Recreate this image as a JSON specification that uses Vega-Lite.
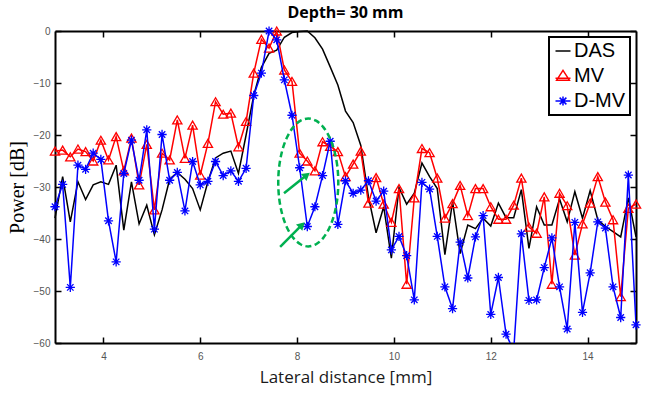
{
  "$schema": "https://vega.github.io/schema/vega-lite/v6.json",
  "width": 581,
  "height": 312,
  "autosize": "none",
  "padding": {"left": 55, "top": 31, "right": 20, "bottom": 50},
  "background": "white",
  "config": {"view": {"stroke": null}},
  "title": {"text": "Depth= 30 mm", "font": "Open Sans", "fontSize": 16, "fontWeight": "bold", "color": "black", "anchor": "middle", "baseline": "alphabetic", "offset": -10},
  "datasets": {
    "curves": [
      {"x":3,"series":"DAS","y":-36.0},{"x":3.158,"series":"DAS","y":-28.0},{"x":3.316,"series":"DAS","y":-36.7},{"x":3.474,"series":"DAS","y":-29.0},{"x":3.632,"series":"DAS","y":-32.4},{"x":3.789,"series":"DAS","y":-29.6},{"x":3.947,"series":"DAS","y":-29.0},{"x":4.105,"series":"DAS","y":-29.5},{"x":4.263,"series":"DAS","y":-25.8},{"x":4.421,"series":"DAS","y":-38.3},
      {"x":4.579,"series":"DAS","y":-29.0},{"x":4.737,"series":"DAS","y":-37.1},{"x":4.895,"series":"DAS","y":-33.5},{"x":5.053,"series":"DAS","y":-39.2},{"x":5.211,"series":"DAS","y":-34.4},{"x":5.368,"series":"DAS","y":-28.5},{"x":5.526,"series":"DAS","y":-27.2},{"x":5.684,"series":"DAS","y":-28.5},{"x":5.842,"series":"DAS","y":-30.3},{"x":6,"series":"DAS","y":-34.4},
      {"x":6.158,"series":"DAS","y":-29.0},{"x":6.316,"series":"DAS","y":-24.4},{"x":6.474,"series":"DAS","y":-23.5},{"x":6.632,"series":"DAS","y":-23.1},{"x":6.789,"series":"DAS","y":-27.4},{"x":6.947,"series":"DAS","y":-20.0},{"x":7.105,"series":"DAS","y":-12.4},{"x":7.263,"series":"DAS","y":-7.0},{"x":7.421,"series":"DAS","y":-4.3},{"x":7.579,"series":"DAS","y":-3.7},
      {"x":7.737,"series":"DAS","y":-1.2},{"x":7.895,"series":"DAS","y":-0.3},{"x":8.053,"series":"DAS","y":-0.1},{"x":8.211,"series":"DAS","y":0},{"x":8.368,"series":"DAS","y":-1.3},{"x":8.526,"series":"DAS","y":-3.5},{"x":8.684,"series":"DAS","y":-6.9},{"x":8.842,"series":"DAS","y":-10.4},{"x":9,"series":"DAS","y":-15.4},{"x":9.158,"series":"DAS","y":-17.6},
      {"x":9.316,"series":"DAS","y":-22.0},{"x":9.474,"series":"DAS","y":-31.9},{"x":9.632,"series":"DAS","y":-38.8},{"x":9.789,"series":"DAS","y":-33.8},{"x":9.947,"series":"DAS","y":-43.7},{"x":10.105,"series":"DAS","y":-30.1},{"x":10.263,"series":"DAS","y":-33.3},{"x":10.421,"series":"DAS","y":-31.2},{"x":10.579,"series":"DAS","y":-25.4},{"x":10.737,"series":"DAS","y":-28.0},
      {"x":10.895,"series":"DAS","y":-30.3},{"x":11.053,"series":"DAS","y":-43.0},{"x":11.211,"series":"DAS","y":-32.8},{"x":11.368,"series":"DAS","y":-42.8},{"x":11.526,"series":"DAS","y":-37.3},{"x":11.684,"series":"DAS","y":-38.0},{"x":11.842,"series":"DAS","y":-36.0},{"x":12,"series":"DAS","y":-37.5},{"x":12.158,"series":"DAS","y":-33.1},{"x":12.316,"series":"DAS","y":-35.9},
      {"x":12.474,"series":"DAS","y":-35.9},{"x":12.632,"series":"DAS","y":-30.5},{"x":12.789,"series":"DAS","y":-41.8},{"x":12.947,"series":"DAS","y":-33.8},{"x":13.105,"series":"DAS","y":-37.3},{"x":13.263,"series":"DAS","y":-37.3},{"x":13.421,"series":"DAS","y":-32.3},{"x":13.579,"series":"DAS","y":-36.7},{"x":13.737,"series":"DAS","y":-30.9},{"x":13.895,"series":"DAS","y":-36.0},
      {"x":14.053,"series":"DAS","y":-30.7},{"x":14.211,"series":"DAS","y":-36.3},{"x":14.368,"series":"DAS","y":-37.6},{"x":14.526,"series":"DAS","y":-38.6},{"x":14.684,"series":"DAS","y":-39.6},{"x":14.842,"series":"DAS","y":-32.1},{"x":15,"series":"DAS","y":-39.6},

      {"x":3,"series":"MV","y":-23.1},{"x":3.158,"series":"MV","y":-22.9},{"x":3.316,"series":"MV","y":-24.2},{"x":3.474,"series":"MV","y":-22.7},{"x":3.632,"series":"MV","y":-23.2},{"x":3.789,"series":"MV","y":-25.0},{"x":3.947,"series":"MV","y":-21.0},{"x":4.105,"series":"MV","y":-24.8},{"x":4.263,"series":"MV","y":-20.3},{"x":4.421,"series":"MV","y":-26.9},
      {"x":4.579,"series":"MV","y":-20.6},{"x":4.737,"series":"MV","y":-29.6},{"x":4.895,"series":"MV","y":-21.8},{"x":5.053,"series":"MV","y":-34.4},{"x":5.211,"series":"MV","y":-23.5},{"x":5.368,"series":"MV","y":-24.8},{"x":5.526,"series":"MV","y":-17.1},{"x":5.684,"series":"MV","y":-24.5},{"x":5.842,"series":"MV","y":-18.1},{"x":6,"series":"MV","y":-27.7},
      {"x":6.158,"series":"MV","y":-21.6},{"x":6.316,"series":"MV","y":-13.6},{"x":6.474,"series":"MV","y":-16.0},{"x":6.632,"series":"MV","y":-15.8},{"x":6.789,"series":"MV","y":-22.3},{"x":6.947,"series":"MV","y":-17.4},{"x":7.105,"series":"MV","y":-8.1},{"x":7.263,"series":"MV","y":-1.6},{"x":7.421,"series":"MV","y":-3.3},{"x":7.579,"series":"MV","y":0},
      {"x":7.737,"series":"MV","y":-7.5},{"x":7.895,"series":"MV","y":-9.7},{"x":8.053,"series":"MV","y":-23.5},{"x":8.211,"series":"MV","y":-25.0},{"x":8.368,"series":"MV","y":-26.9},{"x":8.526,"series":"MV","y":-21.3},{"x":8.684,"series":"MV","y":-22.2},{"x":8.842,"series":"MV","y":-23.2},{"x":9,"series":"MV","y":-28.0},{"x":9.158,"series":"MV","y":-25.6},
      {"x":9.316,"series":"MV","y":-23.1},{"x":9.474,"series":"MV","y":-33.1},{"x":9.632,"series":"MV","y":-28.2},{"x":9.789,"series":"MV","y":-33.3},{"x":9.947,"series":"MV","y":-36.8},{"x":10.105,"series":"MV","y":-30.3},{"x":10.263,"series":"MV","y":-48.7},{"x":10.421,"series":"MV","y":-32.1},{"x":10.579,"series":"MV","y":-22.6},{"x":10.737,"series":"MV","y":-23.4},
      {"x":10.895,"series":"MV","y":-28.3},{"x":11.053,"series":"MV","y":-36.0},{"x":11.211,"series":"MV","y":-33.2},{"x":11.368,"series":"MV","y":-29.7},{"x":11.526,"series":"MV","y":-35.5},{"x":11.684,"series":"MV","y":-30.3},{"x":11.842,"series":"MV","y":-30.3},{"x":12,"series":"MV","y":-33.8},{"x":12.158,"series":"MV","y":-36.2},{"x":12.316,"series":"MV","y":-36.2},
      {"x":12.474,"series":"MV","y":-33.5},{"x":12.632,"series":"MV","y":-28.3},{"x":12.789,"series":"MV","y":-37.7},{"x":12.947,"series":"MV","y":-38.9},{"x":13.105,"series":"MV","y":-31.9},{"x":13.263,"series":"MV","y":-48.7},{"x":13.421,"series":"MV","y":-31.2},{"x":13.579,"series":"MV","y":-33.6},{"x":13.737,"series":"MV","y":-43.1},{"x":13.895,"series":"MV","y":-37.1},
      {"x":14.053,"series":"MV","y":-33.1},{"x":14.211,"series":"MV","y":-28.0},{"x":14.368,"series":"MV","y":-32.9},{"x":14.526,"series":"MV","y":-36.3},{"x":14.684,"series":"MV","y":-51.1},{"x":14.842,"series":"MV","y":-34.1},{"x":15,"series":"MV","y":-33.3},

      {"x":3,"series":"D-MV","y":-33.8},{"x":3.158,"series":"D-MV","y":-29.5},{"x":3.316,"series":"D-MV","y":-49.3},{"x":3.474,"series":"D-MV","y":-25.8},{"x":3.632,"series":"D-MV","y":-26.6},{"x":3.789,"series":"D-MV","y":-23.5},{"x":3.947,"series":"D-MV","y":-24.7},{"x":4.105,"series":"D-MV","y":-36.5},{"x":4.263,"series":"D-MV","y":-44.4},{"x":4.421,"series":"D-MV","y":-27.4},
      {"x":4.579,"series":"D-MV","y":-21.0},{"x":4.737,"series":"D-MV","y":-28.7},{"x":4.895,"series":"D-MV","y":-19.0},{"x":5.053,"series":"D-MV","y":-38.1},{"x":5.211,"series":"D-MV","y":-19.9},{"x":5.368,"series":"D-MV","y":-28.7},{"x":5.526,"series":"D-MV","y":-27.2},{"x":5.684,"series":"D-MV","y":-34.6},{"x":5.842,"series":"D-MV","y":-25.1},{"x":6,"series":"D-MV","y":-29.6},
      {"x":6.158,"series":"D-MV","y":-28.9},{"x":6.316,"series":"D-MV","y":-25.1},{"x":6.474,"series":"D-MV","y":-27.8},{"x":6.632,"series":"D-MV","y":-26.9},{"x":6.789,"series":"D-MV","y":-28.9},{"x":6.947,"series":"D-MV","y":-26.4},{"x":7.105,"series":"D-MV","y":-12.4},{"x":7.263,"series":"D-MV","y":-8.1},{"x":7.421,"series":"D-MV","y":0},{"x":7.579,"series":"D-MV","y":-1.7},
      {"x":7.737,"series":"D-MV","y":-9.4},{"x":7.895,"series":"D-MV","y":-16.2},{"x":8.053,"series":"D-MV","y":-26.3},{"x":8.211,"series":"D-MV","y":-37.6},{"x":8.368,"series":"D-MV","y":-33.8},{"x":8.526,"series":"D-MV","y":-27.8},{"x":8.684,"series":"D-MV","y":-21.2},{"x":8.842,"series":"D-MV","y":-37.2},{"x":9,"series":"D-MV","y":-28.8},{"x":9.158,"series":"D-MV","y":-31.2},
      {"x":9.316,"series":"D-MV","y":-30.6},{"x":9.474,"series":"D-MV","y":-28.8},{"x":9.632,"series":"D-MV","y":-32.7},{"x":9.789,"series":"D-MV","y":-30.8},{"x":9.947,"series":"D-MV","y":-42.1},{"x":10.105,"series":"D-MV","y":-39.5},{"x":10.263,"series":"D-MV","y":-43.2},{"x":10.421,"series":"D-MV","y":-51.7},{"x":10.579,"series":"D-MV","y":-29.1},{"x":10.737,"series":"D-MV","y":-30.4},
      {"x":10.895,"series":"D-MV","y":-39.5},{"x":11.053,"series":"D-MV","y":-49.2},{"x":11.211,"series":"D-MV","y":-53.4},{"x":11.368,"series":"D-MV","y":-40.6},{"x":11.526,"series":"D-MV","y":-47.5},{"x":11.684,"series":"D-MV","y":-39.6},{"x":11.842,"series":"D-MV","y":-35.5},{"x":12,"series":"D-MV","y":-54.5},{"x":12.158,"series":"D-MV","y":-47.4},{"x":12.316,"series":"D-MV","y":-58.3},
      {"x":12.474,"series":"D-MV","y":-61.5},{"x":12.632,"series":"D-MV","y":-39.0},{"x":12.789,"series":"D-MV","y":-51.8},{"x":12.947,"series":"D-MV","y":-51.7},{"x":13.105,"series":"D-MV","y":-45.5},{"x":13.263,"series":"D-MV","y":-39.8},{"x":13.421,"series":"D-MV","y":-49.2},{"x":13.579,"series":"D-MV","y":-57.3},{"x":13.737,"series":"D-MV","y":-36.8},{"x":13.895,"series":"D-MV","y":-54.1},
      {"x":14.053,"series":"D-MV","y":-46.5},{"x":14.211,"series":"D-MV","y":-36.7},{"x":14.368,"series":"D-MV","y":-37.9},{"x":14.526,"series":"D-MV","y":-49.2},{"x":14.684,"series":"D-MV","y":-55.1},{"x":14.842,"series":"D-MV","y":-27.7},{"x":15,"series":"D-MV","y":-56.5}
    ],
    "ellipse": [
      {"i":0,"x":8.851,"y":-29.13},{"i":1,"x":8.830,"y":-25.95},{"i":2,"x":8.768,"y":-22.98},{"i":3,"x":8.669,"y":-20.43},{"i":4,"x":8.541,"y":-18.48},{"i":5,"x":8.391,"y":-17.25},
      {"i":6,"x":8.231,"y":-16.83},{"i":7,"x":8.071,"y":-17.25},{"i":8,"x":7.921,"y":-18.48},{"i":9,"x":7.793,"y":-20.43},{"i":10,"x":7.694,"y":-22.98},{"i":11,"x":7.632,"y":-25.95},
      {"i":12,"x":7.611,"y":-29.13},{"i":13,"x":7.632,"y":-32.31},{"i":14,"x":7.694,"y":-35.28},{"i":15,"x":7.793,"y":-37.83},{"i":16,"x":7.921,"y":-39.78},{"i":17,"x":8.071,"y":-41.01},
      {"i":18,"x":8.231,"y":-41.43},{"i":19,"x":8.391,"y":-41.01},{"i":20,"x":8.541,"y":-39.78},{"i":21,"x":8.669,"y":-37.83},{"i":22,"x":8.768,"y":-35.28},{"i":23,"x":8.830,"y":-32.31}
    ],
    "arrows": [
      {"arrow":"a1","end":"tail","x":7.73,"y":-31.2},{"arrow":"a1","end":"tip","x":8.20,"y":-27.7},
      {"arrow":"a2","end":"tail","x":7.65,"y":-41.5},{"arrow":"a2","end":"tip","x":8.10,"y":-37.3}
    ]
  },
  "resolve": {"axis": {"x": "independent", "y": "independent"}},
  "layer": [
    {
      "data": {"name": "curves"},
      "transform": [{"filter": "datum.series === 'DAS'"}],
      "mark": {"type": "line", "strokeWidth": 1.5},
      "encoding": {
        "x": {"field": "x", "type": "quantitative", "scale": {"domain": [3, 15], "nice": false, "zero": false},
              "axis": {"orient": "bottom", "values": [4, 6, 8, 10, 12, 14], "grid": false, "tickSize": -6, "tickWidth": 1.5, "tickColor": "black", "domainColor": "black", "domainWidth": 2, "labelFont": "Liberation Sans", "labelFontSize": 10, "labelColor": "#555555", "labelPadding": 14, "labelFlush": false,
                       "title": "Lateral distance [mm]", "titleFont": "Open Sans", "titleFontSize": 17, "titleFontWeight": "normal", "titleColor": "#1a1a1a", "titlePadding": 8}},
        "y": {"field": "y", "type": "quantitative", "scale": {"domain": [-60, 0], "nice": false, "zero": false},
              "axis": {"orient": "left", "values": [-60, -50, -40, -30, -20, -10, 0], "grid": false, "tickSize": -6, "tickWidth": 1.5, "tickColor": "black", "domainColor": "black", "domainWidth": 2, "labelFont": "Liberation Sans", "labelFontSize": 10, "labelColor": "#555555", "labelPadding": 11, "labelFlush": false,
                       "title": "Power [dB]", "titleFont": "Liberation Serif", "titleFontSize": 20, "titleFontWeight": "normal", "titleColor": "black", "titlePadding": 6}},
        "color": {"field": "series", "type": "nominal", "sort": ["DAS", "MV", "D-MV"],
                  "scale": {"domain": ["DAS", "MV", "D-MV"], "range": ["#000000", "#ff0000", "#0000ff"]},
                  "legend": {"title": null, "orient": "top-right", "offset": 6, "padding": 4, "rowPadding": 5, "labelFont": "Liberation Sans", "labelFontSize": 20, "labelColor": "black", "labelOffset": 1, "labelLimit": 200, "symbolSize": 225, "symbolStrokeWidth": 1.5, "strokeColor": "black", "fillColor": "white",
                             "encode": {"legend": {"update": {"strokeWidth": {"value": 2}}},
                                        "symbols": {"update": {"shape": {"signal": "datum.value === 'DAS' ? 'M-1,0L1,0' : datum.value === 'MV' ? 'M-1,0.3L1,0.3M0,-0.75L0.85,0.55L-0.85,0.55Z' : 'M-1,0L1,0M0,-0.6L0,0.6M-0.45,-0.45L0.45,0.45M-0.45,0.45L0.45,-0.45'"}, "fill": {"value": "transparent"}, "strokeWidth": {"value": 1.5}}}}}}
      }
    },
    {
      "data": {"name": "curves"},
      "transform": [{"filter": "datum.series === 'MV'"}],
      "mark": {"type": "line", "strokeWidth": 1.5},
      "encoding": {
        "x": {"field": "x", "type": "quantitative", "scale": {"domain": [3, 15], "nice": false, "zero": false}, "axis": null},
        "y": {"field": "y", "type": "quantitative", "scale": {"domain": [-60, 0], "nice": false, "zero": false}, "axis": null},
        "color": {"field": "series", "type": "nominal", "scale": {"domain": ["DAS", "MV", "D-MV"], "range": ["#000000", "#ff0000", "#0000ff"]}, "legend": null}
      }
    },
    {
      "data": {"name": "curves"},
      "transform": [{"filter": "datum.series === 'MV'"}],
      "mark": {"type": "point", "shape": "triangle-up", "filled": false, "size": 85, "strokeWidth": 1.3, "opacity": 1},
      "encoding": {
        "x": {"field": "x", "type": "quantitative", "scale": {"domain": [3, 15], "nice": false, "zero": false}, "axis": null},
        "y": {"field": "y", "type": "quantitative", "scale": {"domain": [-60, 0], "nice": false, "zero": false}, "axis": null},
        "color": {"field": "series", "type": "nominal", "scale": {"domain": ["DAS", "MV", "D-MV"], "range": ["#000000", "#ff0000", "#0000ff"]}, "legend": null}
      }
    },
    {
      "data": {"name": "curves"},
      "transform": [{"filter": "datum.series === 'D-MV'"}],
      "mark": {"type": "line", "strokeWidth": 1.5, "clip": true},
      "encoding": {
        "x": {"field": "x", "type": "quantitative", "scale": {"domain": [3, 15], "nice": false, "zero": false}, "axis": null},
        "y": {"field": "y", "type": "quantitative", "scale": {"domain": [-60, 0], "nice": false, "zero": false}, "axis": null},
        "color": {"field": "series", "type": "nominal", "scale": {"domain": ["DAS", "MV", "D-MV"], "range": ["#000000", "#ff0000", "#0000ff"]}, "legend": null}
      }
    },
    {
      "data": {"name": "curves"},
      "transform": [{"filter": "datum.series === 'D-MV' && datum.y >= -60"}],
      "mark": {"type": "point", "shape": "M-1,0L1,0M0,-1L0,1M-0.7,-0.7L0.7,0.7M-0.7,0.7L0.7,-0.7", "filled": false, "size": 85, "strokeWidth": 1.3, "opacity": 1},
      "encoding": {
        "x": {"field": "x", "type": "quantitative", "scale": {"domain": [3, 15], "nice": false, "zero": false}, "axis": null},
        "y": {"field": "y", "type": "quantitative", "scale": {"domain": [-60, 0], "nice": false, "zero": false}, "axis": null},
        "color": {"field": "series", "type": "nominal", "scale": {"domain": ["DAS", "MV", "D-MV"], "range": ["#000000", "#ff0000", "#0000ff"]}, "legend": null}
      }
    },
    {
      "data": {"name": "ellipse"},
      "mark": {"type": "line", "interpolate": "cardinal-closed", "color": "#00b050", "strokeWidth": 2.5, "strokeDash": [6, 3.5]},
      "encoding": {
        "x": {"field": "x", "type": "quantitative", "scale": {"domain": [3, 15], "nice": false, "zero": false},
              "axis": {"orient": "top", "values": [4, 6, 8, 10, 12, 14], "labels": false, "title": null, "grid": false, "tickSize": -6, "tickWidth": 1.5, "tickColor": "black", "domainColor": "black", "domainWidth": 2}},
        "y": {"field": "y", "type": "quantitative", "scale": {"domain": [-60, 0], "nice": false, "zero": false},
              "axis": {"orient": "right", "values": [-60, -50, -40, -30, -20, -10, 0], "labels": false, "title": null, "grid": false, "tickSize": -6, "tickWidth": 1.5, "tickColor": "black", "domainColor": "black", "domainWidth": 2}},
        "order": {"field": "i", "type": "quantitative"}
      }
    },
    {
      "data": {"name": "arrows"},
      "mark": {"type": "line", "color": "#00b050", "strokeWidth": 2.5},
      "encoding": {
        "x": {"field": "x", "type": "quantitative", "scale": {"domain": [3, 15], "nice": false, "zero": false}, "axis": null},
        "y": {"field": "y", "type": "quantitative", "scale": {"domain": [-60, 0], "nice": false, "zero": false}, "axis": null},
        "detail": {"field": "arrow", "type": "nominal"}
      }
    },
    {
      "data": {"name": "arrows"},
      "transform": [{"filter": "datum.arrow === 'a1' && datum.end === 'tip'"}],
      "mark": {"type": "point", "shape": "triangle-right", "filled": true, "color": "#00b050", "size": 80, "angle": 322, "opacity": 1},
      "encoding": {
        "x": {"field": "x", "type": "quantitative", "scale": {"domain": [3, 15], "nice": false, "zero": false}, "axis": null},
        "y": {"field": "y", "type": "quantitative", "scale": {"domain": [-60, 0], "nice": false, "zero": false}, "axis": null}
      }
    },
    {
      "data": {"name": "arrows"},
      "transform": [{"filter": "datum.arrow === 'a2' && datum.end === 'tip'"}],
      "mark": {"type": "point", "shape": "triangle-right", "filled": true, "color": "#00b050", "size": 80, "angle": 315, "opacity": 1},
      "encoding": {
        "x": {"field": "x", "type": "quantitative", "scale": {"domain": [3, 15], "nice": false, "zero": false}, "axis": null},
        "y": {"field": "y", "type": "quantitative", "scale": {"domain": [-60, 0], "nice": false, "zero": false}, "axis": null}
      }
    }
  ]
}
